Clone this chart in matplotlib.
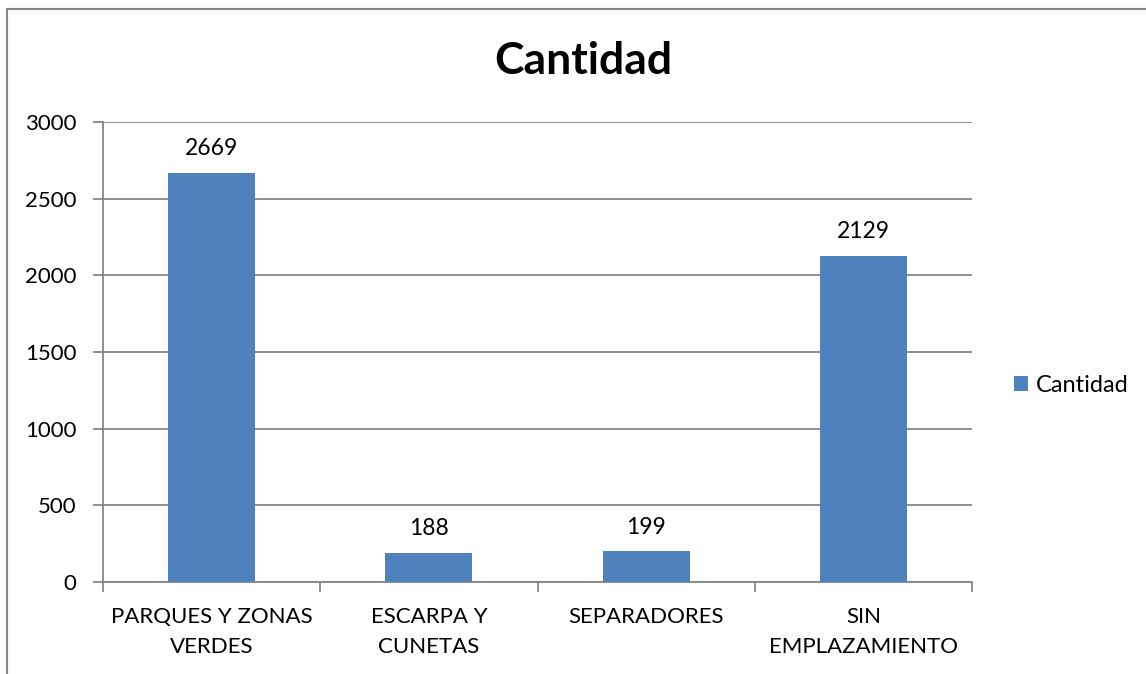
import numpy as np
import matplotlib.pyplot as plt

categorias = ['PARQUES Y ZONAS\nVERDES', 'ESCARPA Y\nCUNETAS', 'SEPARADORES', 'SIN\nEMPLAZAMIENTO']
cantidad = [2669, 188, 199, 2129]
yticks = [0, 500, 1000, 1500, 2000, 2500, 3000]

plt.rcParams['font.family'] = ['Lato', 'DejaVu Sans']
fig = plt.figure(figsize=(11.46, 6.74), dpi=100)
ax = fig.add_axes([0.0899, 0.1365, 0.7583, 0.6825])

x = np.arange(len(categorias))
barras = ax.bar(x, cantidad, width=0.4, color='#4F81BD', label='Cantidad', zorder=3)
for xi, v in zip(x, cantidad):
    ax.annotate(str(v), (xi, v), xytext=(0, 10), textcoords='offset points',
                ha='center', va='bottom', fontsize=16.5)

ax.set_xlim(-0.5, len(categorias) - 0.5)
ax.set_ylim(0, 3000)
ax.set_yticks(yticks)
ax.set_yticklabels([str(t) for t in yticks], fontsize=16)
ax.yaxis.grid(True, color='#868686', linewidth=1.3, zorder=0)
ax.set_xticks(x)
ax.set_xticklabels(categorias, fontsize=16, linespacing=1.6)
ax.set_xticks(np.arange(-0.5, len(categorias)), minor=True)
ax.tick_params(axis='x', which='major', length=0, pad=18)
ax.tick_params(axis='x', which='minor', length=7, width=1.3, color='#868686')
ax.tick_params(axis='y', length=7, width=1.3, color='#868686', pad=12)
for s in ['top', 'right']:
    ax.spines[s].set_visible(False)
for s in ['left', 'bottom']:
    ax.spines[s].set_color('#868686')
    ax.spines[s].set_linewidth(1.3)

fig.text(0.509, 0.91, 'Cantidad', ha='center', va='center', fontsize=32, fontweight='bold')
fig.legend(handles=[barras], labels=['Cantidad'], loc='center left',
           bbox_to_anchor=(0.866, 0.428), frameon=False, fontsize=17,
           handlelength=0.6, handleheight=0.6, handletextpad=0.35)

# marco del grafico
fig.add_artist(plt.Line2D([0.0065, 0.0065], [0, 0.987], color='#868686', lw=1.5, transform=fig.transFigure))
fig.add_artist(plt.Line2D([0.0065, 1], [0.987, 0.987], color='#868686', lw=1.5, transform=fig.transFigure))

fig.savefig('out.png', dpi=100)
